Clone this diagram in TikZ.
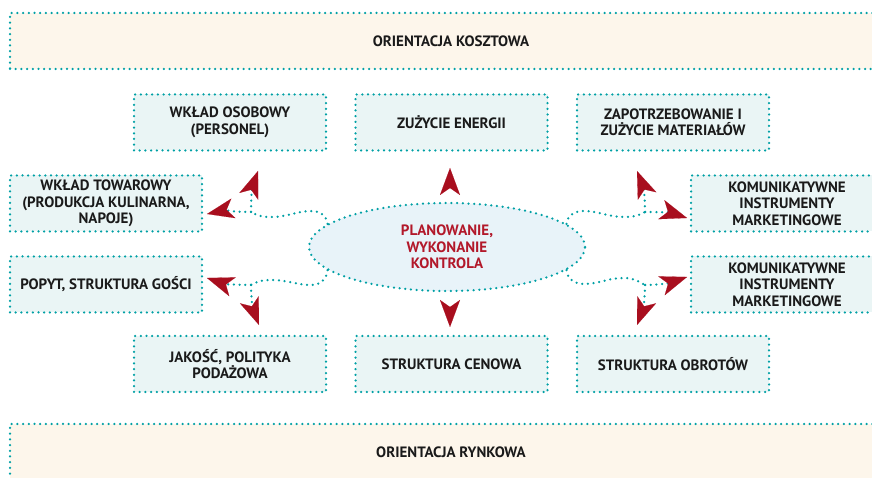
\documentclass[tikz,border=0pt]{standalone}
\usepackage{fontspec}
\setmainfont{PT Sans}
\usetikzlibrary{positioning, shapes.geometric, arrows.meta}

\definecolor{dotteal}{RGB}{0,160,165}
\definecolor{boxfill}{RGB}{234,245,245}
\definecolor{barfill}{RGB}{253,246,235}
\definecolor{ellfill}{RGB}{232,243,249}
\definecolor{tipred}{RGB}{168,14,30}
\definecolor{textred}{RGB}{178,24,42}
\definecolor{textdark}{RGB}{26,26,26}

\newcommand{\boxfont}{\fontsize{15}{16.5}\selectfont\bfseries}

\tikzset{
	dotborder/.style={draw=dotteal, line width=2.5pt, line cap=round,
		dash pattern=on 0pt off 5.7pt},
	box/.style={dotborder, fill=boxfill, minimum width=192pt,
		minimum height=56pt, align=center, inner sep=2pt, outer sep=0pt,
		font=\boxfont, text=textdark},
	orientbar/.style={dotborder, fill=barfill, minimum width=882pt,
		minimum height=56pt, outer sep=0pt, font=\boxfont, text=textdark},
	redtip/.style={-{Stealth[length=27pt, width=20pt, inset=7pt,
		line width=0.1pt, color=tipred]}},
	flowline/.style={dotborder, redtip},
	tipline/.style={draw=tipred, line width=0.1pt, redtip},
}

\begin{document}
\begin{tikzpicture}[x=1pt, y=1pt]
	\useasboundingbox (0,0) rectangle (872,478);
	\clip (0,0) rectangle (872,478);

	% orientation bars
	\node[orientbar] (koszt) at (451,437) {ORIENTACJA KOSZTOWA};
	\node[orientbar] (rynek) at (451,26) {ORIENTACJA RYNKOWA};

	% upper row
	\node[box] (energ) at (451.5,355.5) {ZUŻYCIE ENERGII};
	\node[box, left=29.5pt of energ] (osob) {WKŁAD OSOBOWY\\(PERSONEL)};
	\node[box, right=29.5pt of energ] (mater)
		{ZAPOTRZEBOWANIE I\\ZUŻYCIE MATERIAŁÓW};

	% lower row
	\node[box] (cena) at (451.5,114) {STRUKTURA CENOWA};
	\node[box, left=29.5pt of cena] (jakosc) {JAKOŚĆ, POLITYKA\\PODAŻOWA};
	\node[box, right=29.5pt of cena] (obrot) {STRUKTURA OBROTÓW};

	% side boxes
	\node[box] (towar) at (106,274.5)
		{WKŁAD TOWAROWY\\(PRODUKCJA KULINARNA,\\NAPOJE)};
	\node[box, below=25pt of towar] (popyt) {POPYT, STRUKTURA GOŚCI};
	\node[box] (komm1) at (787,274.5)
		{KOMUNIKATYWNE\\INSTRUMENTY\\MARKETINGOWE};
	\node[box, below=25pt of komm1] (komm2)
		{KOMUNIKATYWNE\\INSTRUMENTY\\MARKETINGOWE};

	% centre
	\node[ellipse, dotborder, fill=ellfill, minimum width=276pt,
		minimum height=88pt, inner sep=0pt, align=center,
		font=\boxfont, text=textred] (plan) at (447,231)
		{PLANOWANIE,\\WYKONANIE\\KONTROLA};

	% branch points
	\coordinate (jul) at (251,266);
	\coordinate (jur) at (645,266);
	\coordinate (jll) at (251,193);
	\coordinate (jlr) at (645,193);

	\draw[dotborder] (plan.169) to[out=95,in=0] (312,267)
		to[out=180,in=0] (272,261) to[out=180,in=-30] (jul);
	\draw[dotborder] (plan.11) to[out=85,in=180] (583,267)
		to[out=0,in=180] (624,261) to[out=0,in=210] (jur);
	\draw[dotborder] (plan.191) to[out=-95,in=0] (312,193)
		to[out=180,in=0] (272,198) to[out=180,in=30] (jll);
	\draw[dotborder] (plan.-11) to[out=-85,in=180] (583,194)
		to[out=0,in=180] (624,200) to[out=0,in=150] (jlr);

	\draw[flowline] (jul) to[out=180,in=12] ([shift={(5pt,-10.5pt)}]towar.east);
	\draw[flowline] (jul) to[out=90,in=250] ([shift={(28pt,-20.5pt)}]osob.south);
	\draw[flowline] (jur) to[out=0,in=162] ([shift={(-4pt,-14.5pt)}]komm1.west);
	\draw[flowline] (jur) to[out=90,in=-68] ([shift={(-36pt,-20.5pt)}]mater.south);
	\draw[flowline] (jll) to[out=180,in=-19] ([shift={(5pt,6.5pt)}]popyt.east);
	\draw[flowline] (jll) to[out=-90,in=111] ([shift={(29pt,11pt)}]jakosc.north);
	\draw[flowline] (jlr) to[out=0,in=199] ([shift={(-4pt,7.5pt)}]komm2.west);
	\draw[flowline] (jlr) to[out=-90,in=69] ([shift={(-36pt,11pt)}]obrot.north);

	\draw[tipline] ([shift={(3pt,15pt)}]plan.north) -- ([shift={(-1.5pt,-17.5pt)}]energ.south);
	\draw[tipline] ([shift={(3pt,-16pt)}]plan.south) -- ([shift={(-1.5pt,9pt)}]cena.north);
\end{tikzpicture}
\end{document}
